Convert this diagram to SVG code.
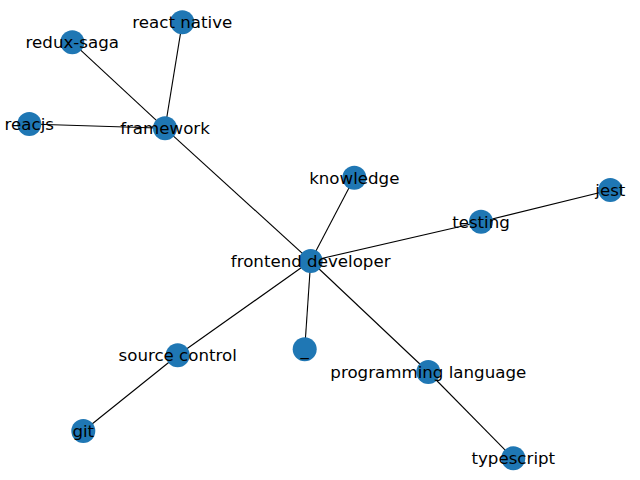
<svg xmlns="http://www.w3.org/2000/svg" width="640" height="480" viewBox="0 0 640 480">
<style>
.edge{stroke:#000;stroke-width:1.1;fill:none}
.node circle{fill:#1f77b4}
.node text{font-family:"DejaVu Sans",sans-serif;font-size:16.67px;fill:#000;text-anchor:middle}
</style>
<rect width="640" height="480" fill="#fff"/>
<g id="connectors">
<line class="edge" x1="310.7" y1="261" x2="165" y2="128.3"/>
<line class="edge" x1="310.7" y1="261" x2="354.3" y2="177.7"/>
<line class="edge" x1="310.7" y1="261" x2="481" y2="221.7"/>
<line class="edge" x1="310.7" y1="261" x2="177.7" y2="355.3"/>
<line class="edge" x1="310.7" y1="261" x2="304.7" y2="349.3"/>
<line class="edge" x1="310.7" y1="261" x2="428.3" y2="372"/>
<line class="edge" x1="165" y1="128.3" x2="72.3" y2="42.3"/>
<line class="edge" x1="165" y1="128.3" x2="182.3" y2="22.3"/>
<line class="edge" x1="165" y1="128.3" x2="29.3" y2="124"/>
<line class="edge" x1="481" y1="221.7" x2="610.3" y2="190"/>
<line class="edge" x1="177.7" y1="355.3" x2="83.3" y2="431"/>
<line class="edge" x1="428.3" y1="372" x2="513.3" y2="458.3"/>
</g>
<g id="n-frontend-developer" class="node"><circle cx="310.7" cy="261" r="12"/><text x="310.7" y="266.8">frontend developer</text></g>
<g id="n-framework" class="node"><circle cx="165" cy="128.3" r="12"/><text x="165" y="134.1">framework</text></g>
<g id="n-redux-saga" class="node"><circle cx="72.3" cy="42.3" r="12"/><text x="72.3" y="48.1">redux-saga</text></g>
<g id="n-react-native" class="node"><circle cx="182.3" cy="22.3" r="12"/><text x="182.3" y="28.1">react native</text></g>
<g id="n-reacjs" class="node"><circle cx="29.3" cy="124" r="12"/><text x="29.3" y="129.8">reacjs</text></g>
<g id="n-knowledge" class="node"><circle cx="354.3" cy="177.7" r="12"/><text x="354.3" y="183.5">knowledge</text></g>
<g id="n-testing" class="node"><circle cx="481" cy="221.7" r="12"/><text x="481" y="227.5">testing</text></g>
<g id="n-jest" class="node"><circle cx="610.3" cy="190" r="12"/><text x="610.3" y="195.8">jest</text></g>
<g id="n-source-control" class="node"><circle cx="177.7" cy="355.3" r="12"/><text x="177.7" y="361.1">source control</text></g>
<g id="n-git" class="node"><circle cx="83.3" cy="431" r="12"/><text x="83.3" y="436.8">git</text></g>
<g id="n-underscore" class="node"><circle cx="304.7" cy="349.3" r="12"/><text x="304.7" y="355.1">_</text></g>
<g id="n-programming-language" class="node"><circle cx="428.3" cy="372" r="12"/><text x="428.3" y="377.8">programming language</text></g>
<g id="n-typescript" class="node"><circle cx="513.3" cy="458.3" r="12"/><text x="513.3" y="464.1">typescript</text></g>
</svg>
